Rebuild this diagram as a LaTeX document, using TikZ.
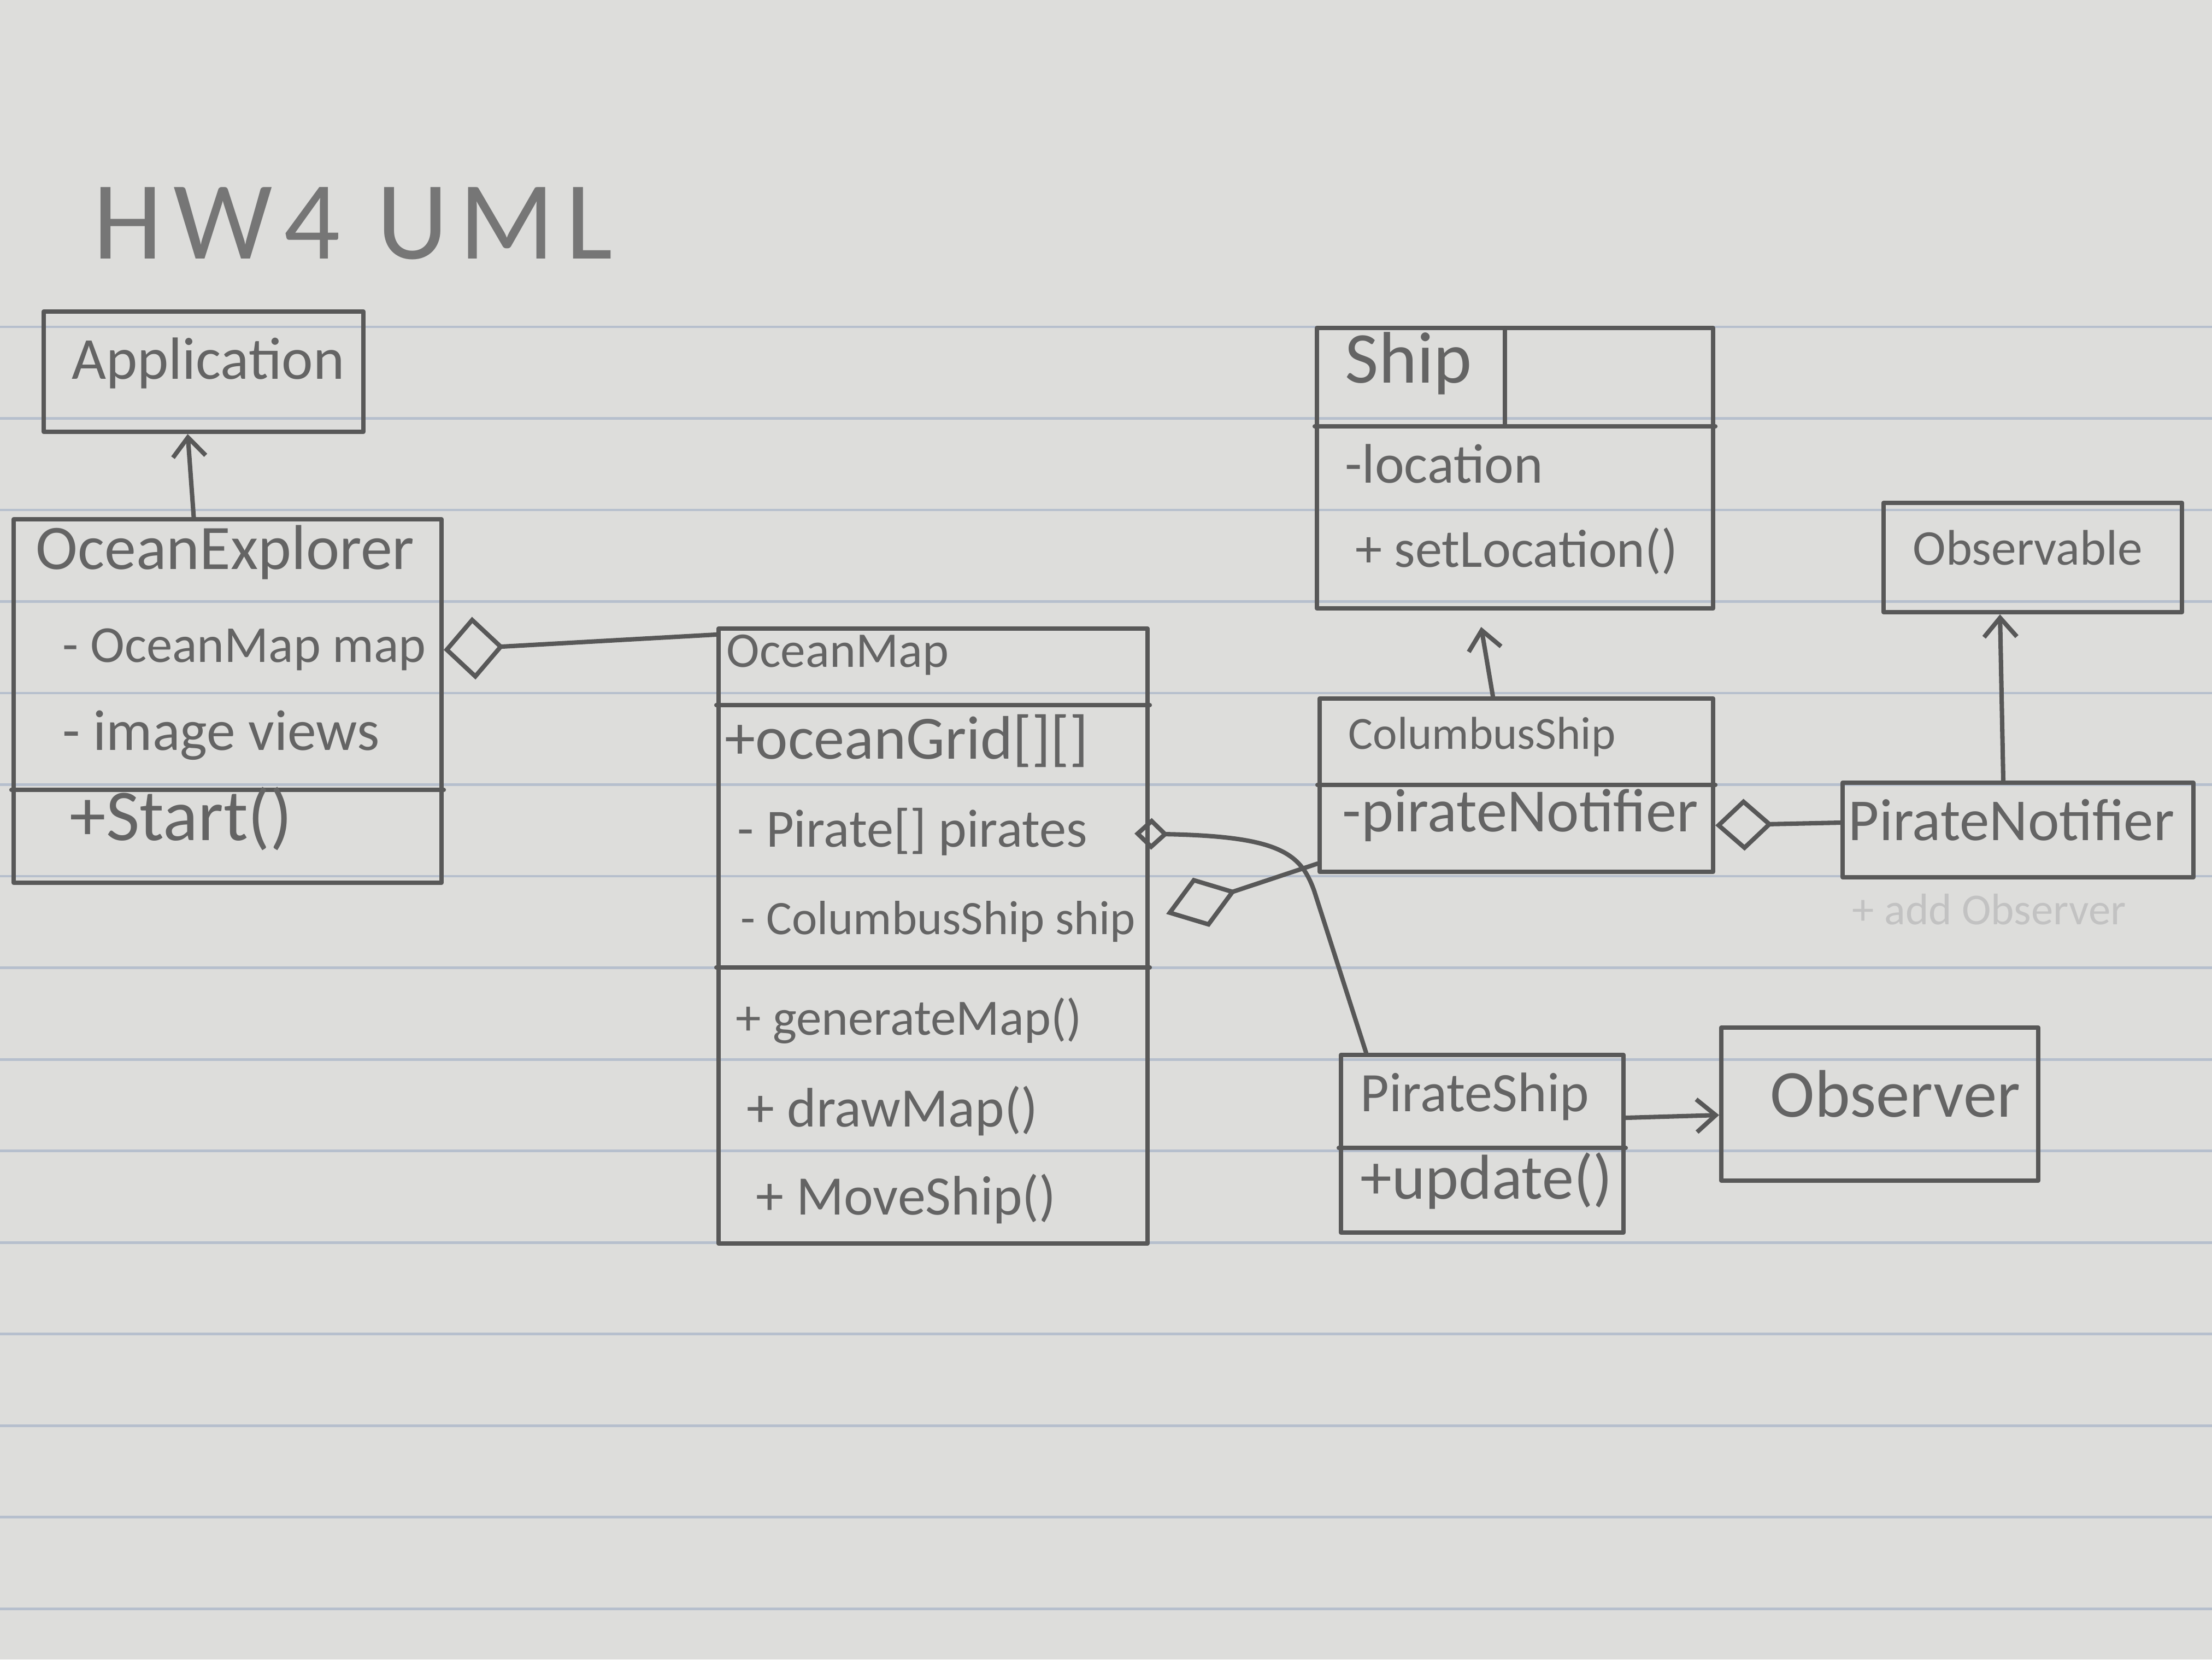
\documentclass[tikz,border=0pt]{standalone}
\usepackage{fontspec}
\setmainfont{Carlito}
\usetikzlibrary{arrows.meta,calc}
\definecolor{paper}{RGB}{221,221,219}
\definecolor{rulec}{RGB}{182,191,205}
\definecolor{pencil}{RGB}{88,88,88}
\definecolor{pentext}{RGB}{100,100,100}
\definecolor{titlec}{RGB}{118,118,118}
\definecolor{faint}{RGB}{194,194,194}
\newcommand{\fsz}[1]{\fontsize{#1}{#1}\selectfont}
\tikzset{
  box/.style={draw=pencil, line width=2.3pt, inner sep=0pt, line join=round},
  pline/.style={draw=pencil, line width=2.3pt, line cap=round, line join=round},
  txt/.style={text=pentext, inner sep=0pt, anchor=west, text height=0.7em, text depth=0.2em},
  inh/.style={-{Straight Barb[length=3.5mm,width=6mm]}},
  rulel/.style={draw=rulec, line width=1.4pt}
}
\begin{document}
\begin{tikzpicture}
\useasboundingbox (0,0) rectangle (40.48,-30.36);
\fill[paper] (0,0) rectangle (40.48,-30.36);
\foreach \k in {0,...,14} \draw[rulel] (0,{-5.98-1.675*\k}) -- (40.48,{-5.98-1.675*\k});

% title
\node[txt, text=titlec, font={\fsz{58}\addfontfeature{LetterSpace=10}}] (title) at (1.7,-4.65) {HW4 UML};

% Application
\node[box, minimum width=5.85cm, minimum height=2.2cm] (app) at (3.725,-6.8) {};
\node[txt, font=\fsz{31}, anchor=center] (appT) at (3.81,-6.85) {Application};

% OceanExplorer
\node[box, minimum width=7.83cm, minimum height=6.65cm] (oe) at (4.165,-12.825) {};
\draw[pline] (oe.west |- 0,-14.45) -- (oe.east |- 0,-14.45);
\node[txt, font=\fsz{33}] (oeT) at (0.65,-10.33) {OceanExplorer};
\node[txt, font=\fsz{27}] (oeA1) at (1.14,-12.03) {- OceanMap map};
\node[txt, font=\fsz{30}] (oeA2) at (1.14,-13.64) {- image views};
\node[txt, font=\fsz{38}] (oeM1) at (1.27,-15.29) {+Start()};

% OceanMap
\node[box, minimum width=7.85cm, minimum height=11.25cm] (om) at (17.075,-17.125) {};
\draw[pline] (om.west |- 0,-12.9) -- (om.east |- 0,-12.9);
\draw[pline] (om.west |- 0,-17.7) -- (om.east |- 0,-17.7);
\node[txt, font=\fsz{26}] (omT) at (13.29,-12.12) {OceanMap};
\node[txt, font=\fsz{32}] (omA1) at (13.26,-13.8) {+oceanGrid[][]};
\node[txt, font=\fsz{28}] (omA2) at (13.49,-15.41) {- Pirate[] pirates};
\node[txt, font=\fsz{25}] (omA3) at (13.55,-17.01) {- ColumbusShip ship};
\node[txt, font=\fsz{26.5}] (omM1) at (13.46,-18.85) {+ generateMap()};
\node[txt, font=\fsz{29}] (omM2) at (13.66,-20.53) {+ drawMap()};
\node[txt, font=\fsz{29}] (omM3) at (13.83,-22.14) {+ MoveShip()};

% Ship
\node[box, minimum width=7.25cm, minimum height=5.13cm] (ship) at (27.725,-8.565) {};
\draw[pline] (ship.west |- 0,-7.8) -- (ship.east |- 0,-7.8);
\draw[pline] (27.54,-6.0) -- (27.54,-7.8);
\node[txt, font=\fsz{38}] (shipT) at (24.61,-6.92) {Ship};
\node[txt, font=\fsz{29}] (shipA) at (24.61,-8.75) {-location};
\node[txt, font=\fsz{28}] (shipM) at (24.8,-10.29) {+ setLocation()};

% ColumbusShip
\node[box, minimum width=7.2cm, minimum height=3.17cm] (cs) at (27.75,-14.365) {};
\draw[pline] (cs.west |- 0,-14.36) -- (cs.east |- 0,-14.36);
\node[txt, font=\fsz{24}] (csT) at (24.67,-13.62) {ColumbusShip};
\node[txt, font=\fsz{32}] (csA) at (24.56,-15.13) {-pirateNotifier};

% Observable
\node[box, minimum width=5.46cm, minimum height=2.0cm] (obsable) at (37.2,-10.2) {};
\node[txt, font=\fsz{26}] (obsableT) at (35.0,-10.25) {Observable};

% PirateNotifier
\node[box, minimum width=6.42cm, minimum height=1.73cm] (pn) at (36.93,-15.185) {};
\node[txt, font=\fsz{31}] (pnT) at (33.82,-15.29) {PirateNotifier};
\node[txt, font=\fsz{23}, text=faint] (pnF) at (33.89,-16.83) {+ add Observer};

% PirateShip
\node[box, minimum width=5.17cm, minimum height=3.25cm] (ps) at (27.125,-20.925) {};
\draw[pline] (ps.west |- 0,-21.0) -- (ps.east |- 0,-21.0);
\node[txt, font=\fsz{29}] (psT) at (24.89,-20.25) {PirateShip};
\node[txt, font=\fsz{33}] (psM) at (24.89,-21.85) {+update()};

% Observer
\node[box, minimum width=5.8cm, minimum height=2.8cm] (obs) at (34.4,-20.2) {};
\node[txt, font=\fsz{35}] (obsT) at (32.39,-20.35) {Observer};

% connectors
\draw[pline, inh] ($(oe.north)+(-0.62,0)$) -- ($(app.south)+(-0.29,0)$);
\draw[pline, -{Diamond[open,length=11mm,width=11.5mm]}] ($(om.north west)+(0,-0.15)$) -- ($(oe.north east)+(0,-2.43)$);
\draw[pline, -{Diamond[open,length=6.2mm,width=5.8mm]}] ($(ps.north west)+(0.5,0)$) -- (24.05,-16.3) .. controls (23.8,-15.6) and (23.4,-15.3) .. ($(om.east |- 0,-15.25)+(-0.28,0)$);
\draw[pline, -{Diamond[open,length=13.5mm,width=9.5mm]}] (cs.west |- 0,-15.8) -- ($(om.east |- 0,-16.72)+(0.3,0)$);
\draw[pline, inh] ($(cs.north)+(-0.43,0)$) -- ($(ship.south)+(-0.62,-0.3)$);
\draw[pline, -{Diamond[open,length=10.5mm,width=9.5mm]}] (pn.west |- 0,-15.05) -- (cs.east |- 0,-15.1);
\draw[pline, inh] ($(pn.north)+(-0.27,0)$) -- ($(obsable.south)+(-0.6,0)$);
\draw[pline, inh] (ps.east |- 0,-20.45) -- (obs.west |- 0,-20.4);
\end{tikzpicture}
\end{document}
